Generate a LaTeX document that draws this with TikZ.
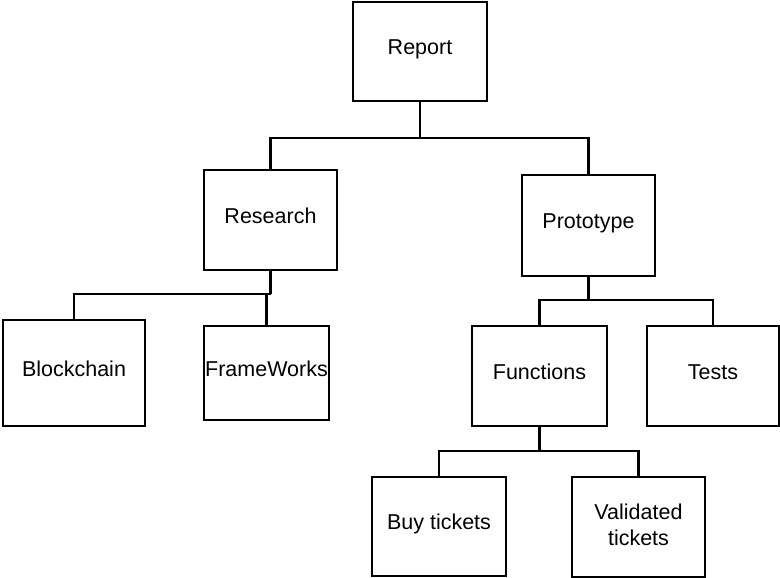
\documentclass[tikz,border=0pt]{standalone}
\usepackage{fontspec}
\setmainfont{Liberation Sans}
\begin{document}
\begin{tikzpicture}[x=1pt,y=-1pt,
  txt/.style={font=\fontsize{21.5}{26}\selectfont},
  box/.style={draw=black,line width=2.3pt,fill=white,inner sep=0pt,txt,
    text height=0.72em,text depth=0.04em},
  conn/.style={draw=black,line width=2.3pt}]
\useasboundingbox (0,0) rectangle (780,578);
\node[box,minimum width=134,minimum height=99] (report) at (420,51.5) {Report};
\node[box,minimum width=133,minimum height=100] (research) at (270.5,220) {Research};
\node[box,minimum width=133,minimum height=101] (prototype) at (588.5,225.5) {Prototype};
\node[box,minimum width=142,minimum height=106] (blockchain) at (74,373) {Blockchain};
\node[box,minimum width=125,minimum height=94] (frameworks) at (266.5,373) {FrameWorks};
\node[box,minimum width=135,minimum height=100] (functions) at (539.5,376) {Functions};
\node[box,minimum width=132,minimum height=100] (tests) at (713,376) {Tests};
\node[box,minimum width=134,minimum height=99] (buy) at (439,526.5) {Buy tickets};
\node[box,minimum width=133,minimum height=100] (validated) at (638.5,527) {};
\node[txt,align=center,inner sep=0pt] (validatedtext) at ([yshift=2.5pt]validated.center) {Validated\\tickets};
\coordinate (j1) at (420,138);
\coordinate (j2) at (270.5,294);
\coordinate (j3) at (588.5,300);
\coordinate (j4) at (539.5,451);
\draw[conn] (report.south) -- (j1);
\draw[conn] (j1) -| (research.north);
\draw[conn] (j1) -| (prototype.north);
\draw[conn] (research.south) -- (j2);
\draw[conn] (j2) -| (blockchain.north);
\draw[conn] (frameworks.north) -- (frameworks.north |- j2);
\draw[conn] (prototype.south) -- (j3);
\draw[conn] (j3) -| (functions.north);
\draw[conn] (j3) -| (tests.north);
\draw[conn] (functions.south) -- (j4);
\draw[conn] (j4) -| (buy.north);
\draw[conn] (j4) -| (validated.north);
\end{tikzpicture}
\end{document}
